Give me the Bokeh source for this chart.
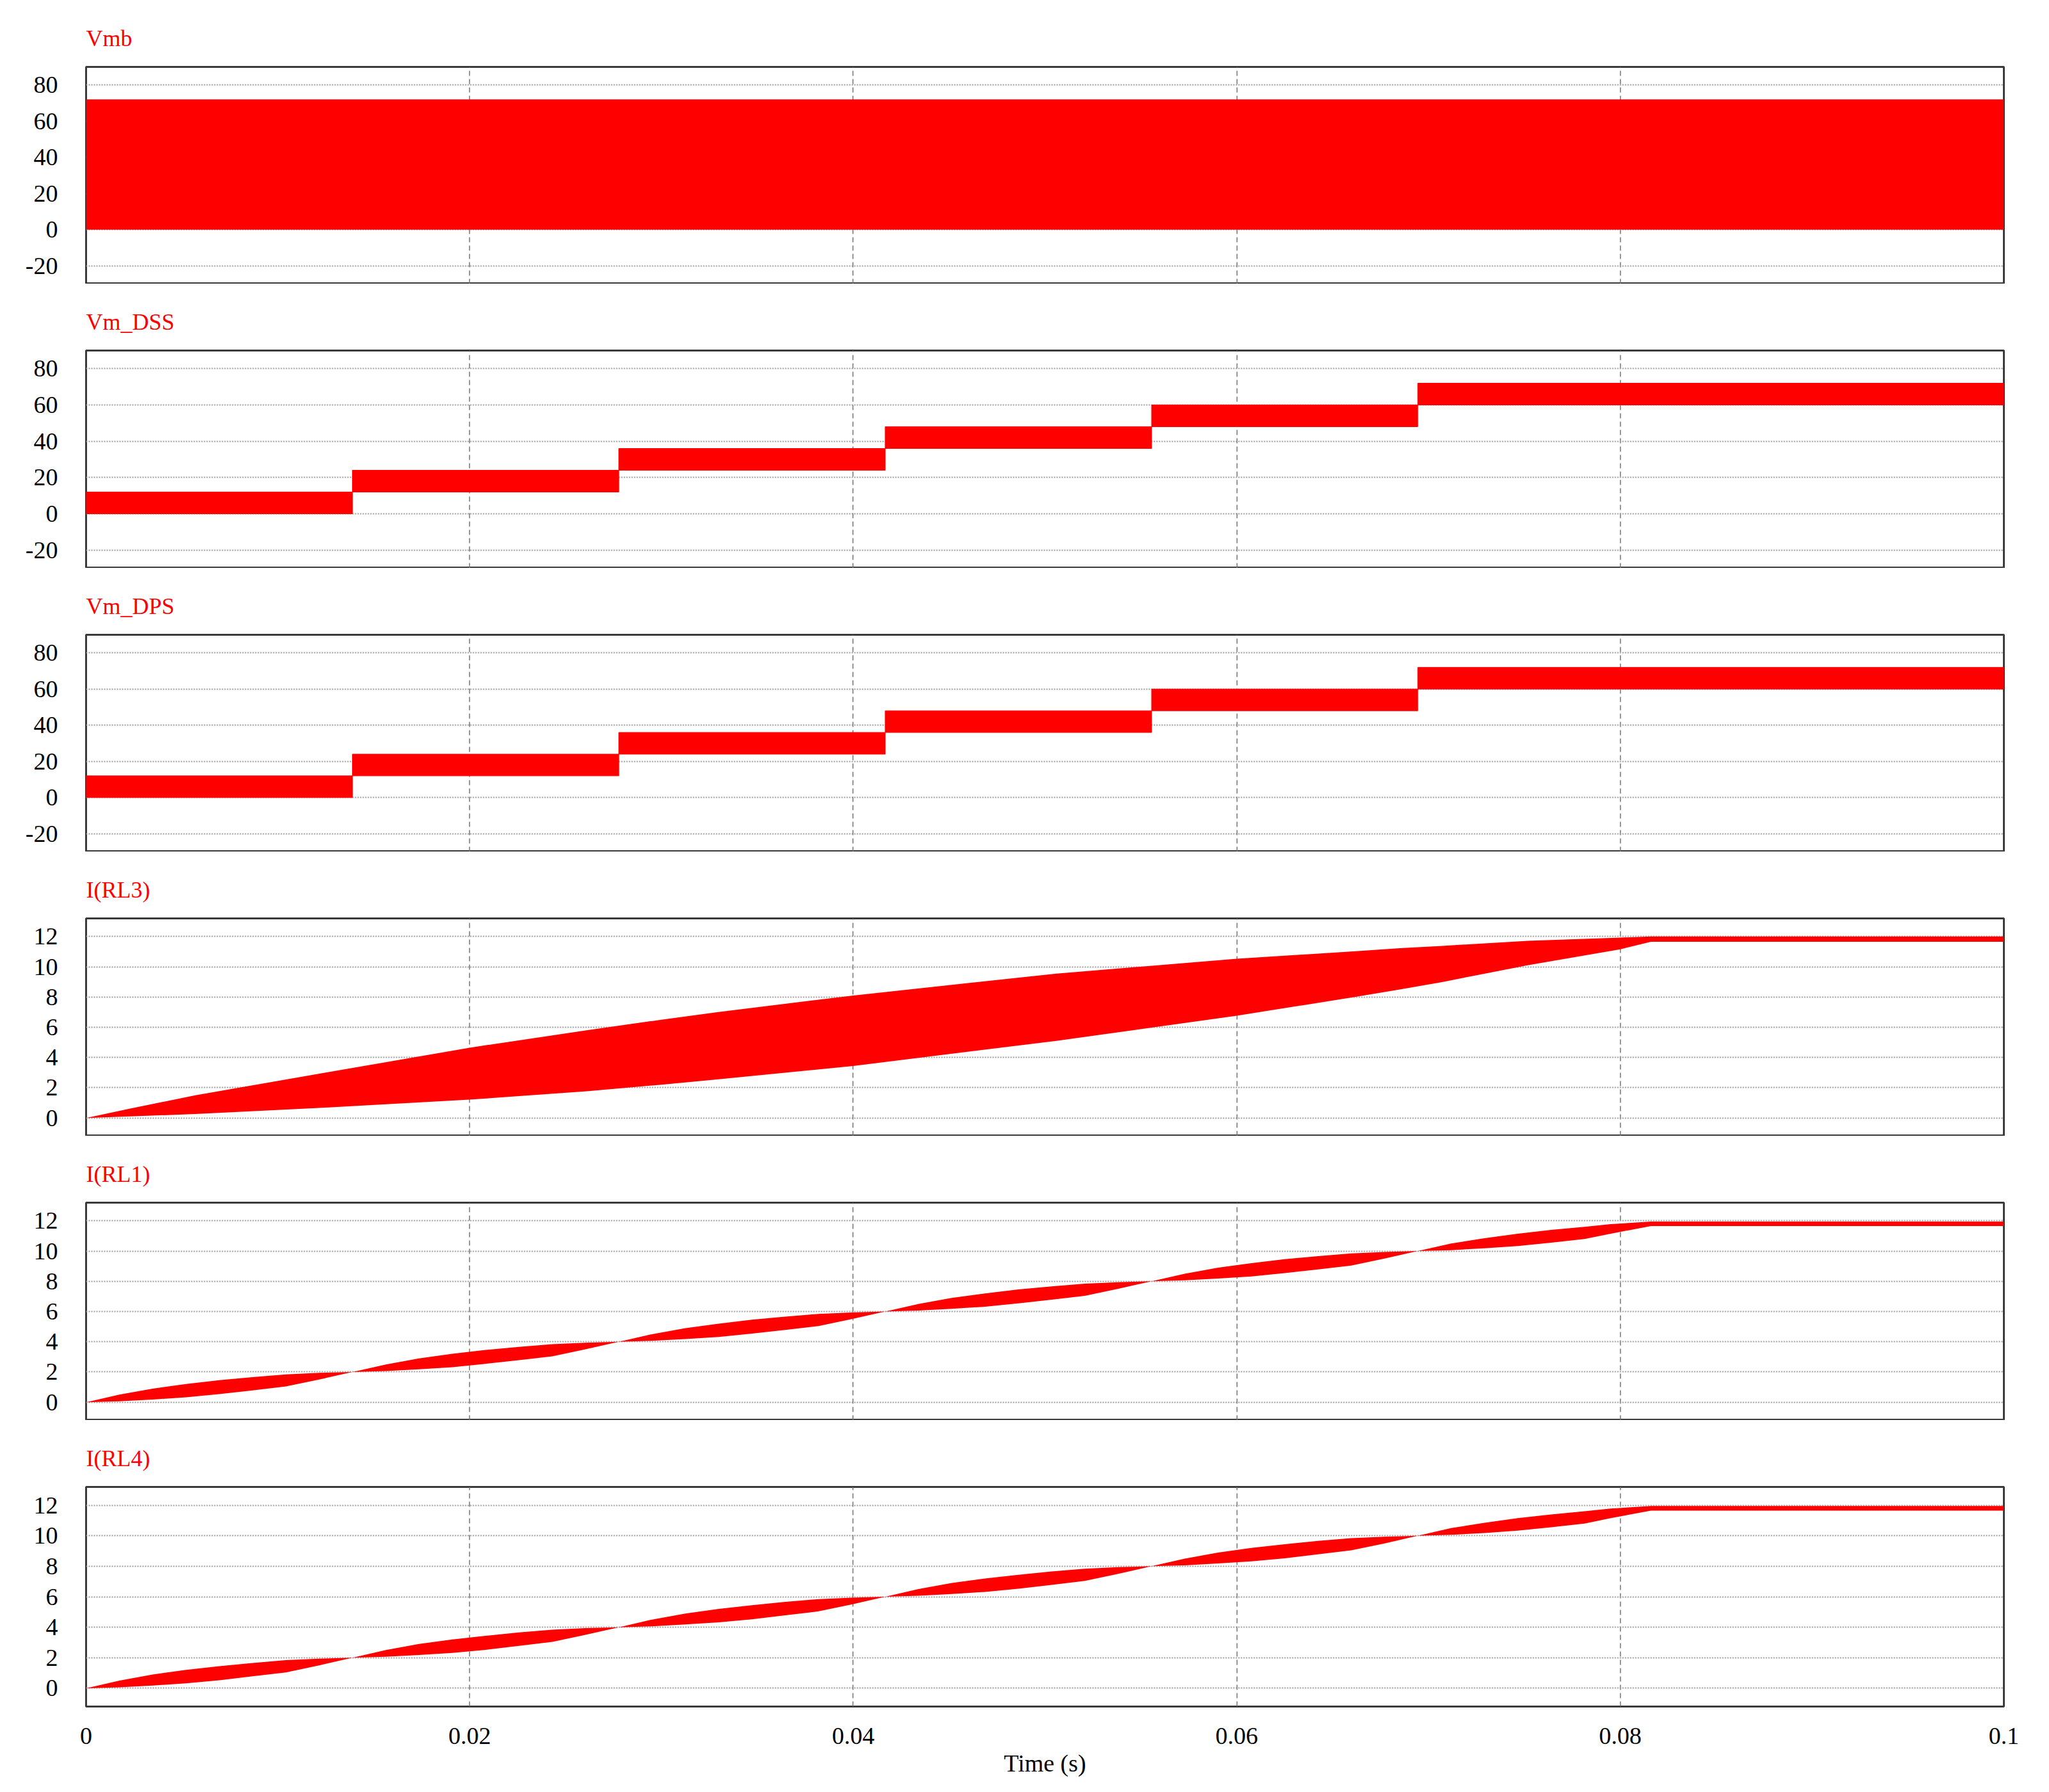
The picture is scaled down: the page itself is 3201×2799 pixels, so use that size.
from bokeh.plotting import figure
from bokeh.layouts import column
from bokeh.models import Range1d, FixedTicker
from bokeh.embed import file_html
from bokeh.resources import INLINE

# ---------------- data ----------------
panel_titles = ["Vmb", "Vm_DSS", "Vm_DPS", "I(RL3)", "I(RL1)", "I(RL4)"]
time_ticks = [0, 0.02, 0.04, 0.06, 0.08, 0.1]
time_tick_labels = ["0", "0.02", "0.04", "0.06", "0.08", "0.1"]
volt_ticks = [-20, 0, 20, 40, 60, 80]
volt_tick_labels = ["-20", "0", "20", "40", "60", "80"]
curr_ticks = [0, 2, 4, 6, 8, 10, 12]
curr_tick_labels = ["0", "2", "4", "6", "8", "10", "12"]
x_label = "Time (s)"

# Vmb: PWM between 0 and 72 V over whole run (drawn as filled envelope)
vmb_t = [0.0, 0.1]
vmb_low = [0, 0]
vmb_high = [72, 72]

# Vm_DSS / Vm_DPS: stepped PWM envelopes
step_edges = [0.0, 0.01389, 0.02778, 0.04167, 0.05556, 0.06944, 0.1]
dss_low = [0, 12, 24, 36, 48, 60]
dss_high = [12, 24, 36, 48, 60, 72]
dps_low = [0, 12, 24, 36, 48, 60]
dps_high = [12, 24, 36, 48, 60, 72]

# I(RL3) ripple envelope
rl3_t = [0, 0.0023, 0.0057, 0.0125, 0.02, 0.0261, 0.03, 0.0329, 0.04, 0.0506,
         0.06, 0.0662, 0.0685, 0.0707, 0.0752, 0.08, 0.0816, 0.1]
rl3_hi = [0, 0.62, 1.5, 3.0, 4.65, 5.8, 6.5, 7.0, 8.1, 9.55,
          10.53, 11.03, 11.23, 11.38, 11.72, 11.93, 12.0, 12.0]
rl3_lo = [0, 0.1, 0.26, 0.68, 1.21, 1.77, 2.2, 2.55, 3.44, 5.1,
          6.76, 8.01, 8.5, 8.99, 10.11, 11.16, 11.65, 11.65]

# I(RL1) ripple envelope
rl1_t = [0, 0.00174, 0.00347, 0.00521, 0.00694, 0.00868, 0.01042, 0.01215, 0.01389,
         0.01563, 0.01736, 0.0191, 0.02083, 0.02257, 0.02431, 0.02604, 0.02778,
         0.02951, 0.03125, 0.03299, 0.03472, 0.03646, 0.03819, 0.03993, 0.04167,
         0.0434, 0.04514, 0.04688, 0.04861, 0.05035, 0.05208, 0.05382, 0.05556,
         0.05729, 0.05903, 0.06076, 0.0625, 0.06424, 0.06597, 0.06771, 0.06944,
         0.07118, 0.07292, 0.07465, 0.07639, 0.07813, 0.0795, 0.0816, 0.1]
rl1_hi = [0, 0.5, 0.9, 1.2, 1.46, 1.66, 1.84, 1.94, 2.0,
          2.5, 2.9, 3.2, 3.46, 3.66, 3.84, 3.94, 4.0,
          4.5, 4.9, 5.2, 5.46, 5.66, 5.84, 5.94, 6.0,
          6.5, 6.9, 7.2, 7.46, 7.66, 7.84, 7.94, 8.0,
          8.5, 8.9, 9.2, 9.46, 9.66, 9.84, 9.94, 10.0,
          10.5, 10.85, 11.15, 11.4, 11.6, 11.78, 11.95, 11.95]
rl1_lo = [0, 0.06, 0.18, 0.32, 0.54, 0.78, 1.04, 1.5, 2.0,
          2.06, 2.18, 2.32, 2.54, 2.78, 3.04, 3.5, 4.0,
          4.06, 4.18, 4.32, 4.54, 4.78, 5.04, 5.5, 6.0,
          6.06, 6.18, 6.32, 6.54, 6.78, 7.04, 7.5, 8.0,
          8.06, 8.18, 8.32, 8.54, 8.78, 9.04, 9.5, 10.0,
          10.06, 10.18, 10.33, 10.55, 10.8, 11.15, 11.65, 11.65]

# I(RL4) ripple envelope
rl4_t = [0, 0.00174, 0.00347, 0.00521, 0.00694, 0.00868, 0.01042, 0.01215, 0.01389,
         0.01563, 0.01736, 0.0191, 0.02083, 0.02257, 0.02431, 0.02604, 0.02778,
         0.02951, 0.03125, 0.03299, 0.03472, 0.03646, 0.03819, 0.03993, 0.04167,
         0.0434, 0.04514, 0.04688, 0.04861, 0.05035, 0.05208, 0.05382, 0.05556,
         0.05729, 0.05903, 0.06076, 0.0625, 0.06424, 0.06597, 0.06771, 0.06944,
         0.07118, 0.07292, 0.07465, 0.07639, 0.07813, 0.0795, 0.0816, 0.1]
rl4_hi = [0, 0.5, 0.9, 1.2, 1.44, 1.66, 1.84, 1.94, 2.0,
          2.5, 2.9, 3.2, 3.44, 3.66, 3.84, 3.94, 4.0,
          4.5, 4.9, 5.2, 5.44, 5.66, 5.84, 5.94, 6.0,
          6.5, 6.9, 7.2, 7.44, 7.66, 7.84, 7.94, 8.0,
          8.5, 8.9, 9.2, 9.44, 9.66, 9.84, 9.94, 10.0,
          10.5, 10.85, 11.15, 11.4, 11.6, 11.78, 11.95, 11.95]
rl4_lo = [0, 0.06, 0.18, 0.32, 0.52, 0.78, 1.04, 1.5, 2.0,
          2.06, 2.18, 2.32, 2.52, 2.78, 3.04, 3.5, 4.0,
          4.06, 4.18, 4.32, 4.52, 4.78, 5.04, 5.5, 6.0,
          6.06, 6.18, 6.32, 6.52, 6.78, 7.04, 7.5, 8.0,
          8.06, 8.18, 8.32, 8.52, 8.78, 9.04, 9.5, 10.0,
          10.06, 10.18, 10.33, 10.55, 10.8, 11.15, 11.65, 11.65]

# ---------------- styling ----------------
RED = "#ff0000"
FONT = "Liberation Serif"
W = 3170
FRAME_LEFT = 134
TOP = 104
FRAME_H = 343
heights = [443, 444, 443, 444, 444]


def make_fig(title, yr, yticks, ylabels, height, last=False):
    bottom = height - TOP - FRAME_H
    p = figure(width=W, height=height,
               x_range=Range1d(0, 0.1), y_range=Range1d(*yr),
               output_backend="svg", toolbar_location=None,
               min_border_left=FRAME_LEFT, min_border_right=40,
               min_border_top=TOP, min_border_bottom=bottom,
               title=title)
    p.background_fill_color = "white"
    p.border_fill_color = "white"
    p.outline_line_color = "#3a3a3a"
    p.outline_line_width = 3
    p.title.text_color = RED
    p.title.text_font = FONT
    p.title.text_font_size = "36px"
    p.title.text_font_style = "normal"
    p.title.align = "left"
    p.title.offset = 0
    p.title.standoff = 50

    yax = p.yaxis[0]
    yax.ticker = FixedTicker(ticks=yticks)
    yax.major_label_overrides = {t: l for t, l in zip(yticks, ylabels)}
    yax.axis_line_color = None
    yax.major_tick_line_color = None
    yax.minor_tick_line_color = None
    yax.major_tick_out = 0
    yax.major_tick_in = 0
    yax.major_label_standoff = 44
    yax.major_label_text_font = FONT
    yax.major_label_text_font_size = "38px"
    yax.major_label_text_color = "black"

    xax = p.xaxis[0]
    xax.ticker = FixedTicker(ticks=time_ticks)
    xax.major_label_overrides = {t: l for t, l in zip(time_ticks, time_tick_labels)}
    if last:
        xax.axis_line_color = None
        xax.major_tick_line_color = None
        xax.minor_tick_line_color = None
        xax.major_tick_out = 0
        xax.major_tick_in = 0
        xax.major_label_standoff = 33
        xax.major_label_text_font = FONT
        xax.major_label_text_font_size = "38px"
        xax.major_label_text_color = "black"
        xax.axis_label = x_label
        xax.axis_label_text_font = FONT
        xax.axis_label_text_font_size = "38px"
        xax.axis_label_text_font_style = "normal"
        xax.axis_label_text_color = "black"
        xax.axis_label_standoff = 6
    else:
        xax.visible = False

    p.xgrid.ticker = FixedTicker(ticks=time_ticks)
    p.xgrid.grid_line_color = "#707070"
    p.xgrid.grid_line_dash = "8 5"
    p.xgrid.grid_line_width = 1.5
    p.ygrid.ticker = FixedTicker(ticks=yticks)
    p.ygrid.grid_line_color = "#9a9a9a"
    p.ygrid.grid_line_dash = "2 2"
    p.ygrid.grid_line_width = 2
    return p


VR = (-30, 90)
IR = (-1.2, 13.2)

f1 = make_fig(panel_titles[0], VR, volt_ticks, volt_tick_labels, heights[0])
f1.varea(x=vmb_t, y1=vmb_low, y2=vmb_high, fill_color=RED)

f2 = make_fig(panel_titles[1], VR, volt_ticks, volt_tick_labels, heights[1])
f2.quad(left=step_edges[:-1], right=step_edges[1:], bottom=dss_low, top=dss_high,
        fill_color=RED, line_color=RED, line_width=1)

f3 = make_fig(panel_titles[2], VR, volt_ticks, volt_tick_labels, heights[2])
f3.quad(left=step_edges[:-1], right=step_edges[1:], bottom=dps_low, top=dps_high,
        fill_color=RED, line_color=RED, line_width=1)

f4 = make_fig(panel_titles[3], IR, curr_ticks, curr_tick_labels, heights[3])
f4.varea(x=rl3_t, y1=rl3_lo, y2=rl3_hi, fill_color=RED)

f5 = make_fig(panel_titles[4], IR, curr_ticks, curr_tick_labels, heights[4])
f5.varea(x=rl1_t, y1=rl1_lo, y2=rl1_hi, fill_color=RED)

f6 = make_fig(panel_titles[5], IR, curr_ticks, curr_tick_labels, 104 + 343 + 128, last=True)
f6.varea(x=rl4_t, y1=rl4_lo, y2=rl4_hi, fill_color=RED)

layout = column(f1, f2, f3, f4, f5, f6, spacing=0)

open("out.html", "w").write(file_html(layout, INLINE))
